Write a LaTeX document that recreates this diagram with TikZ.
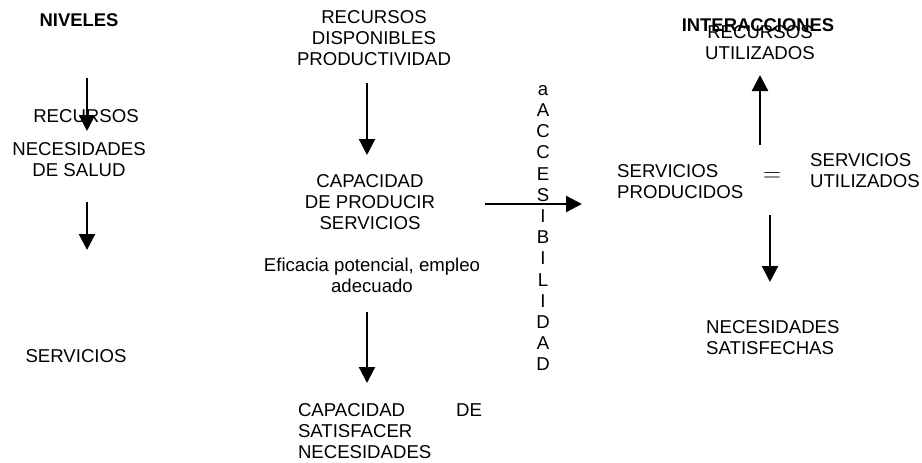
\documentclass[tikz,border=0pt]{standalone}
\usepackage{fontspec}
\setmainfont{Liberation Sans}
\usetikzlibrary{arrows.meta}
\begin{document}
\begin{tikzpicture}[x=1pt,y=-1pt,
  lbl/.style={font=\fontsize{18.6}{20.9}\selectfont, inner sep=0pt, align=center},
  lbll/.style={font=\fontsize{18.6}{20.9}\selectfont, inner sep=0pt, align=left},
  hdr/.style={font=\fontsize{18.4}{20.9}\selectfont\bfseries, inner sep=0pt},
  arr/.style={line width=2.2pt, -{Triangle[length=16pt,width=16pt]}}]
\useasboundingbox (0,0) rectangle (922,463);

% left column
\node[hdr] (niv) at (79,20) {NIVELES};
\node[lbl] (rec1) at (86,116) {RECURSOS};
\node[lbl] (nec1) at (79,160) {NECESIDADES\\DE SALUD};
\node[lbl] (serv1) at (76,356) {SERVICIOS};
\coordinate (a1s) at (87,78);  \coordinate (a1e) at (87,131);
\coordinate (a2s) at (87,202); \coordinate (a2e) at (87,250);
\draw[arr] (a1s) -- (a1e);
\draw[arr] (a2s) -- (a2e);

% middle column
\node[lbl] (recd) at (374,38) {RECURSOS\\DISPONIBLES\\PRODUCTIVIDAD};
\node[lbl] (cap) at (370,202) {CAPACIDAD\\DE PRODUCIR\\SERVICIOS};
\node[lbl] (efi) at (372,275) {Eficacia potencial, empleo\\adecuado};
\node[lbll, text width=184pt] (capsat) at (390,431) {CAPACIDAD\hfill DE\\SATISFACER\\NECESIDADES};
\coordinate (a3s) at (367,83);  \coordinate (a3e) at (367,155);
\coordinate (a4s) at (367,312); \coordinate (a4e) at (367,383);
\draw[arr] (a3s) -- (a3e);
\draw[arr] (a4s) -- (a4e);

% accesibilidad
\node[font=\fontsize{18.6}{21.2}\selectfont, inner sep=0pt, align=center] (acc) at (543,228)
  {a\\A\\C\\C\\E\\S\\I\\B\\I\\L\\I\\D\\A\\D};
\coordinate (a5s) at (485,204); \coordinate (a5e) at (582,204);
\draw[arr] (a5s) -- (a5e);

% right column
\node[hdr] (inter) at (758,25) {INTERACCIONES};
\node[lbl] (recu) at (760,43) {RECURSOS\\UTILIZADOS};
\node[lbll, anchor=west] (sprod) at (617,182) {SERVICIOS\\PRODUCIDOS};
\node[inner sep=0pt, font=\fontsize{26}{28}\selectfont] (eq) at (772,177) {$=$};
\node[lbll, anchor=west] (sutil) at (810,171) {SERVICIOS\\UTILIZADOS};
\node[lbll, anchor=west] (nsat) at (706,338) {NECESIDADES\\SATISFECHAS};
\coordinate (a6s) at (760,145); \coordinate (a6e) at (760,75);
\coordinate (a7s) at (770,215); \coordinate (a7e) at (770,282);
\draw[arr] (a6s) -- (a6e);
\draw[arr] (a7s) -- (a7e);
\end{tikzpicture}
\end{document}
